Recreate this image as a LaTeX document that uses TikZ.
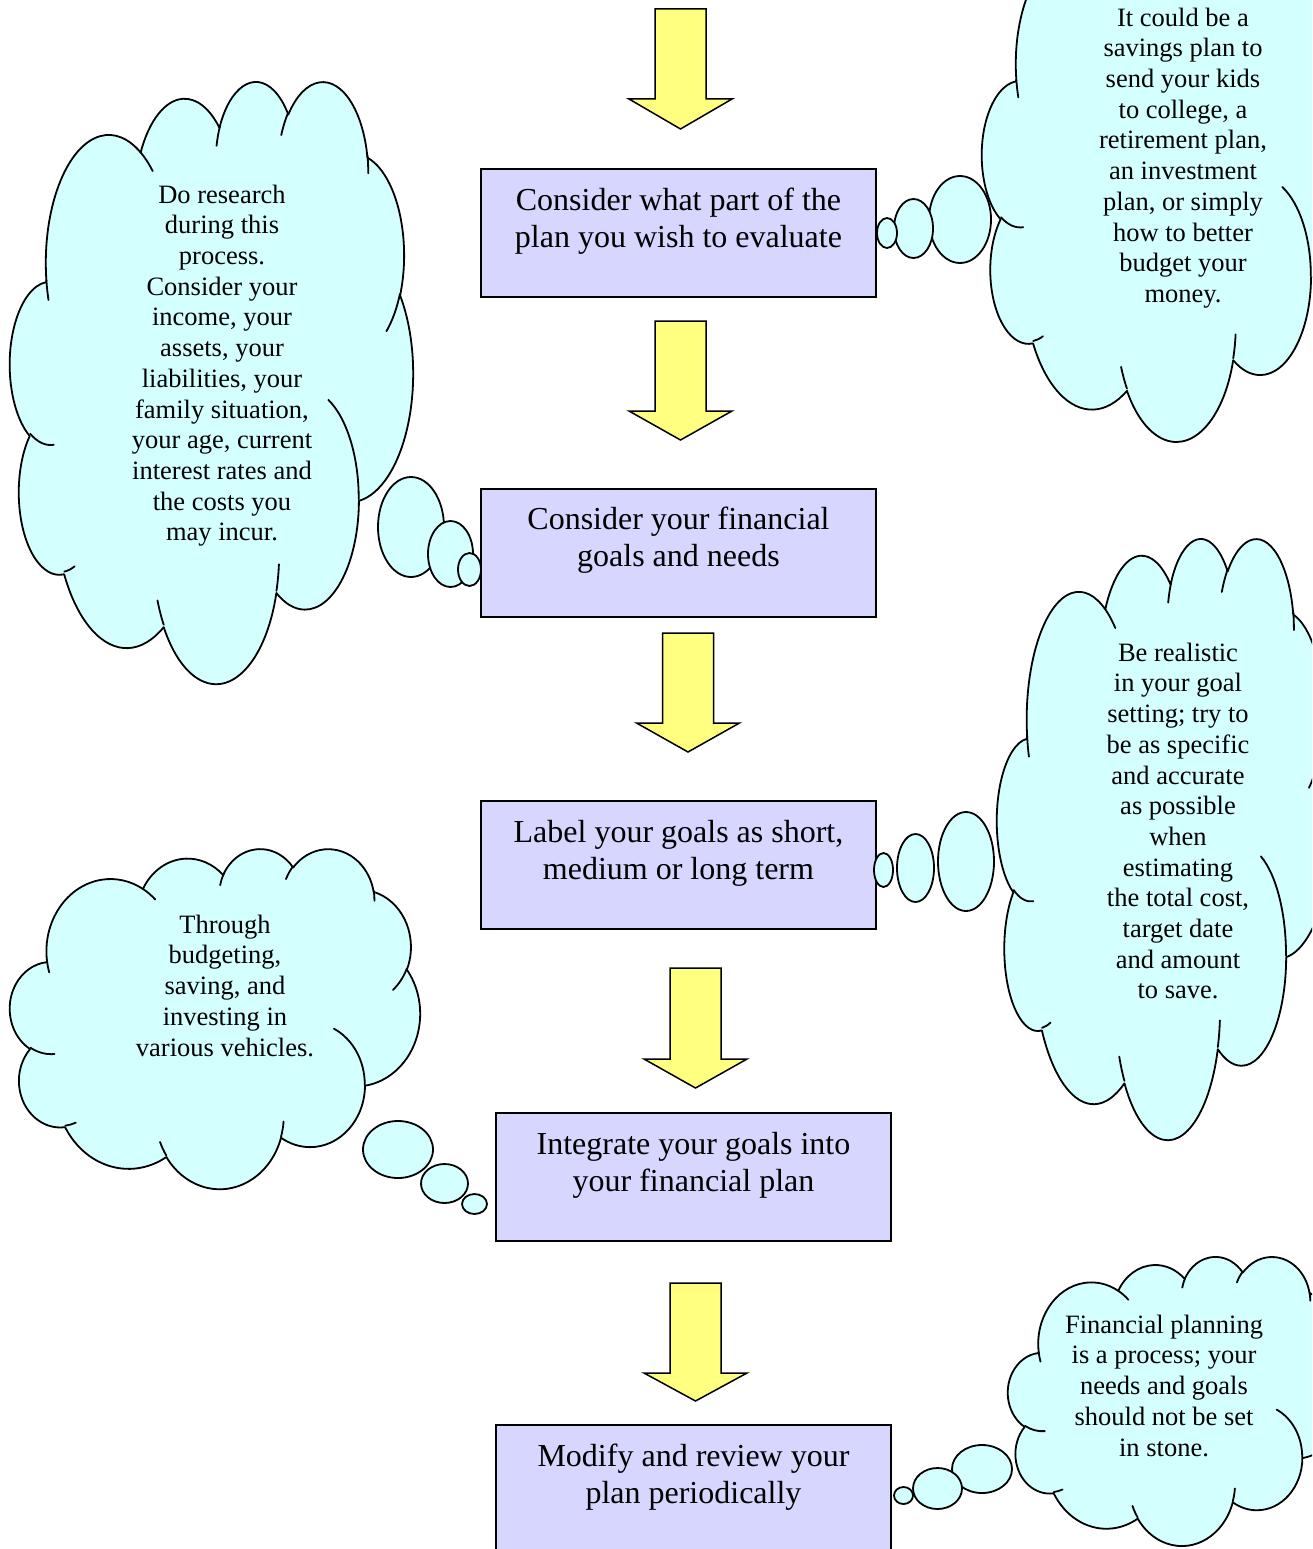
\documentclass[tikz,border=0pt]{standalone}
\usepackage{fontspec}
\setmainfont{Liberation Serif}
\definecolor{boxfill}{RGB}{214,214,255}
\definecolor{cloudfill}{RGB}{212,255,255}
\definecolor{arrowfill}{RGB}{255,255,128}

% One elliptical arc of the cloud outline: x radius, y radius,
% start direction and sweep (directions measured on the ellipse as seen)
\newcommand\cloudarc[4]{arc[x radius=#1,y radius=#2,
  /utils/exec={%
    \pgfmathsetmacro\cas{atan2(#1*sin(#3),#2*cos(#3))}%
    \pgfmathsetmacro\cae{atan2(#1*sin(#3+#4),#2*cos(#3+#4))}%
    \pgfmathsetmacro\cad{\cae-\cas-360*round((\cae-\cas-#4)/360)}},
  start angle=\cas,delta angle=\cad]}

% Cloud with frame left, top, width, height (outline in units of 1/1000 of 43.2)
\newcommand\financecloud[4]{%
  \begin{scope}[shift={(#1,#2)},xscale=#3/43.2,yscale=#4/43.2]
    \path[cloudbody] (3.900,14.370)
      \cloudarc{6.753}{9.190}{-190.4875}{123.7805}
      \cloudarc{5.333}{7.267}{-144.1024}{89.9452}
      \cloudarc{4.365}{5.945}{-145.8079}{99.7230}
      \cloudarc{4.857}{6.595}{-130.9861}{117.2417}
      \cloudarc{5.333}{7.273}{-78.7089}{109.0269}
      \cloudarc{6.775}{9.220}{-46.2673}{130.2690}
      \cloudarc{5.785}{7.867}{0.6250}{114.0333}
      \cloudarc{6.752}{9.215}{22.4516}{115.1726}
      \cloudarc{7.720}{10.543}{66.2426}{75.7110}
      \cloudarc{4.360}{5.918}{-274.9421}{146.7356}
      \cloudarc{4.345}{5.945}{-246.8285}{152.5189} -- cycle;
    \draw[cloudedge]
      (4.693,26.177) \cloudarc{4.345}{5.945}{86.7420}{26.4295}
      (6.928,34.899) \cloudarc{4.360}{5.918}{73.6105}{11.4475}
      (16.478,39.090) \cloudarc{6.752}{9.215}{137.6242}{14.0811}
      (28.827,34.751) \cloudarc{6.752}{9.215}{6.4533}{15.9984}
      (34.129,22.954) \cloudarc{5.785}{7.867}{-70.2924}{70.9174}
      (41.798,15.354) \cloudarc{5.333}{7.273}{30.3180}{27.7515}
      (38.324,5.426) \cloudarc{4.857}{6.595}{-13.7443}{14.8589}
      (29.078,3.952) \cloudarc{4.857}{6.595}{-149.1815}{18.1954}
      (22.141,4.720) \cloudarc{4.365}{5.945}{-163.4943}{17.6864}
      (14.000,5.192) \cloudarc{6.753}{9.190}{-66.7070}{12.3194}
      (4.127,15.789) \cloudarc{6.753}{9.190}{157.6544}{11.8582};
  \end{scope}}

% Yellow block arrow pointing down: centre x, top, head base, tip
\newcommand\blockarrow[4]{%
  \draw[arrowbody] (#1-25.5,#2) -- (#1+25.5,#2) -- (#1+25.5,#3) -- (#1+51.5,#3)
    -- (#1,#4) -- (#1-51.5,#3) -- (#1-25.5,#3) -- cycle;}

\tikzset{
  stepbox/.style={draw=black,line width=1.8pt,fill=boxfill,rectangle,
    minimum width=395pt,minimum height=128pt,inner sep=0pt},
  boxtext/.style={anchor=north,align=center,inner sep=0pt,
    font=\fontsize{32}{37}\selectfont},
  cloudtext/.style={anchor=north,align=center,inner sep=0pt,
    font=\fontsize{26.5}{30.7}\selectfont},
  cloudbody/.style={draw=black,line width=1.8pt,fill=cloudfill,line join=round},
  cloudedge/.style={draw=black,line width=1.8pt,line cap=round},
  bubble/.style={draw=black,line width=1.8pt,fill=cloudfill},
  arrowbody/.style={draw=black,line width=1.5pt,fill=arrowfill,line join=miter},
}

\begin{document}
\begin{tikzpicture}[x=1pt,y=-1pt]
\useasboundingbox (0,0) rectangle (1312,1549);
\clip (0,0) rectangle (1312,1549);
\fill[white] (0,0) rectangle (1312,1549);

% Block arrows
\blockarrow{680.5}{9}{99}{129}
\blockarrow{680.5}{321}{411}{440}
\blockarrow{688}{633}{723}{752}
\blockarrow{695.5}{968}{1059}{1088}
\blockarrow{695.5}{1283}{1373}{1401}

% Steps
\node[stepbox] (box1) at (678.5,233) {};
\node[stepbox] (box2) at (678.5,553) {};
\node[stepbox] (box3) at (678.5,865) {};
\node[stepbox] (box4) at (693.5,1177) {};
\node[stepbox] (box5) at (693.5,1489) {};

\node[boxtext] (t1) at (678.5,184.1) {\strut Consider what part of the\\plan you wish to evaluate};
\node[boxtext] (t2) at (678.5,503.6) {\strut Consider your financial\\goals and needs};
\node[boxtext] (t3) at (678.5,816.1) {\strut Label your goals as short,\\medium or long term};
\node[boxtext] (t4) at (693.5,1128.1) {\strut Integrate your goals into\\your financial plan};
\node[boxtext] (t5) at (693.5,1440.1) {\strut Modify and review your\\plan periodically};

% Clouds
\financecloud{982}{-100}{380}{540}
\financecloud{10}{80}{403}{602}
\financecloud{997}{537}{334}{601}
\financecloud{10}{848}{410}{340}
\financecloud{1008}{1256}{340}{289}

% Thought bubbles
\path[bubble] (960,219.5) ellipse [x radius=31,y radius=43.5];
\path[bubble] (913.5,228.5) ellipse [x radius=19.5,y radius=29.5];
\path[bubble] (887,233) ellipse [x radius=10,y radius=15];

\path[bubble] (411,527) ellipse [x radius=33,y radius=50];
\path[bubble] (450.5,554) ellipse [x radius=22.5,y radius=33];
\path[bubble] (469.5,569.5) ellipse [x radius=11.5,y radius=16.5];

\path[bubble] (966,861.5) ellipse [x radius=28,y radius=49.5];
\path[bubble] (915.5,868) ellipse [x radius=18.5,y radius=34];
\path[bubble] (883.5,870) ellipse [x radius=9.5,y radius=17];

\path[bubble] (398,1149.5) ellipse [x radius=35,y radius=28.5];
\path[bubble] (444.5,1183.5) ellipse [x radius=23.5,y radius=19.5];
\path[bubble] (474.5,1204) ellipse [x radius=12.5,y radius=10];

\path[bubble] (982,1469) ellipse [x radius=30,y radius=24];
\path[bubble] (937.5,1488.5) ellipse [x radius=24.5,y radius=20.5];
\path[bubble] (903.5,1495.5) ellipse [x radius=9.5,y radius=8.5];

% Cloud texts
\node[cloudtext] (nA) at (1183,4.5) {\strut It could be a\\savings plan to\\send your kids\\to college, a\\retirement plan,\\an investment\\plan, or simply\\how to better\\budget your\\money.};
\node[cloudtext] (nB) at (222,181.5) {\strut Do research\\during this\\process.\\Consider your\\income, your\\assets, your\\liabilities, your\\family situation,\\your age, current\\interest rates and\\the costs you\\may incur.};
\node[cloudtext] (nC) at (1178,639.5) {\strut Be realistic\\in your goal\\setting; try to\\be as specific\\and accurate\\as possible\\when\\estimating\\the total cost,\\target date\\and amount\\to save.};
\node[cloudtext] (nD) at (225,911.5) {\strut Through\\budgeting,\\saving, and\\investing in\\various vehicles.};
\node[cloudtext] (nE) at (1164,1311.5) {\strut Financial planning\\is a process; your\\needs and goals\\should not be set\\in stone.};
\end{tikzpicture}
\end{document}
